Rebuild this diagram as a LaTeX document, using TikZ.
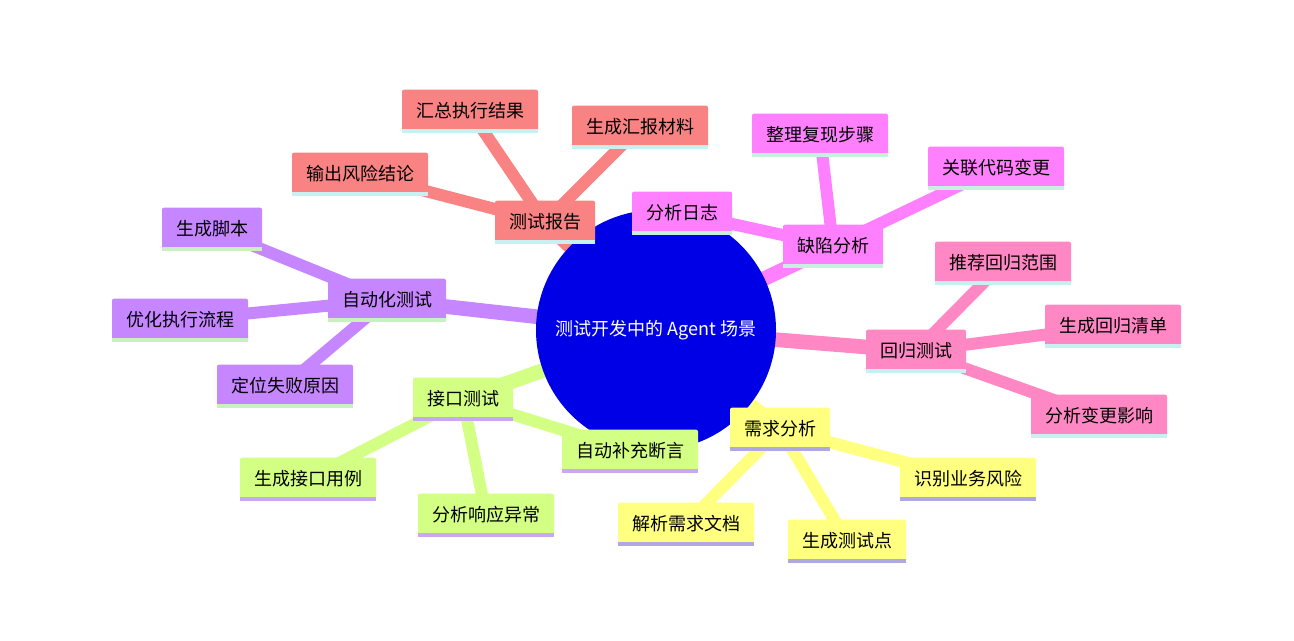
\documentclass[tikz,border=0pt]{standalone}
\usepackage{fontspec}
\newfontfamily\cjk{Noto Sans CJK SC}
\usetikzlibrary{backgrounds}
\definecolor{cR}{HTML}{F98282}\definecolor{uR}{HTML}{C8F0F0}
\definecolor{cM}{HTML}{FF80FF}\definecolor{uM}{HTML}{C8F0E0}
\definecolor{cP}{HTML}{FF88C4}\definecolor{uP}{HTML}{C8F0F0}
\definecolor{cY}{HTML}{FFFF80}\definecolor{uY}{HTML}{B0A8E0}
\definecolor{cG}{HTML}{D2FF84}\definecolor{uG}{HTML}{C8A8F0}
\definecolor{cV}{HTML}{C586FF}\definecolor{uV}{HTML}{C8F0C0}
\definecolor{root}{HTML}{0000E6}
\tikzset{mm/.style={rectangle,rounded corners=1.5pt,minimum height=32pt,inner xsep=10.5pt,font=\cjk\fontsize{13.5}{15}\selectfont,text=black}}
\newcommand\mmnode[6]{\node[mm,fill=#4] (#1) at (#2,#3) {#6};
 \draw[#5,line width=2.5pt] ([yshift=1.25pt]#1.south west)--([yshift=1.25pt]#1.south east);}
\newcommand\edge[4]{\draw[#3,line width=#4,line cap=butt] (#1.center)--(#2.center);}
\begin{document}
\begin{tikzpicture}[x=0.75pt,y=-0.75pt]
\useasboundingbox (0,0) rectangle (1294,640);
\node[circle,fill=root,minimum size=180pt,text=white,font=\cjk\fontsize{13.5}{15}\selectfont] (r) at (656,330) {测试开发中的 Agent 场景};
\mmnode{s1}{545}{222}{cR}{uR}{测试报告}
\mmnode{a1}{470}{111}{cR}{uR}{汇总执行结果}
\mmnode{a2}{640}{127}{cR}{uR}{生成汇报材料}
\mmnode{a3}{360}{174}{cR}{uR}{输出风险结论}
\mmnode{s2}{833}{246}{cM}{uM}{缺陷分析}
\mmnode{b1}{682}{213}{cM}{uM}{分析日志}
\mmnode{b2}{820}{135}{cM}{uM}{整理复现步骤}
\mmnode{b3}{996}{168}{cM}{uM}{关联代码变更}
\mmnode{s3}{916}{351}{cP}{uP}{回归测试}
\mmnode{c1}{1003}{263}{cP}{uP}{推荐回归范围}
\mmnode{c2}{1113}{326}{cP}{uP}{生成回归清单}
\mmnode{c3}{1099}{416}{cP}{uP}{分析变更影响}
\mmnode{s4}{780}{429}{cY}{uY}{需求分析}
\mmnode{d1}{968}{479}{cY}{uY}{识别业务风险}
\mmnode{d2}{686}{524}{cY}{uY}{解析需求文档}
\mmnode{d3}{847}{541}{cY}{uY}{生成测试点}
\mmnode{s5}{463}{399}{cG}{uG}{接口测试}
\mmnode{e1}{308}{479}{cG}{uG}{生成接口用例}
\mmnode{e2}{486}{515}{cG}{uG}{分析响应异常}
\mmnode{e3}{630}{451}{cG}{uG}{自动补充断言}
\mmnode{s6}{387}{300}{cV}{uV}{自动化测试}
\mmnode{f1}{212}{229}{cV}{uV}{生成脚本}
\mmnode{f2}{180}{320}{cV}{uV}{优化执行流程}
\mmnode{f3}{285}{386}{cV}{uV}{定位失败原因}
\begin{scope}[on background layer]
\edge{r}{s1}{cR}{11pt}\edge{s1}{a1}{cR}{9pt}\edge{s1}{a2}{cR}{9pt}\edge{s1}{a3}{cR}{9pt}
\edge{r}{s2}{cM}{11pt}\edge{s2}{b1}{cM}{9pt}\edge{s2}{b2}{cM}{9pt}\edge{s2}{b3}{cM}{9pt}
\edge{r}{s3}{cP}{11pt}\edge{s3}{c1}{cP}{9pt}\edge{s3}{c2}{cP}{9pt}\edge{s3}{c3}{cP}{9pt}
\edge{r}{s4}{cY}{11pt}\edge{s4}{d1}{cY}{9pt}\edge{s4}{d2}{cY}{9pt}\edge{s4}{d3}{cY}{9pt}
\edge{r}{s5}{cG}{11pt}\edge{s5}{e1}{cG}{9pt}\edge{s5}{e2}{cG}{9pt}\edge{s5}{e3}{cG}{9pt}
\edge{r}{s6}{cV}{11pt}\edge{s6}{f1}{cV}{9pt}\edge{s6}{f2}{cV}{9pt}\edge{s6}{f3}{cV}{9pt}
\end{scope}
\end{tikzpicture}
\end{document}
